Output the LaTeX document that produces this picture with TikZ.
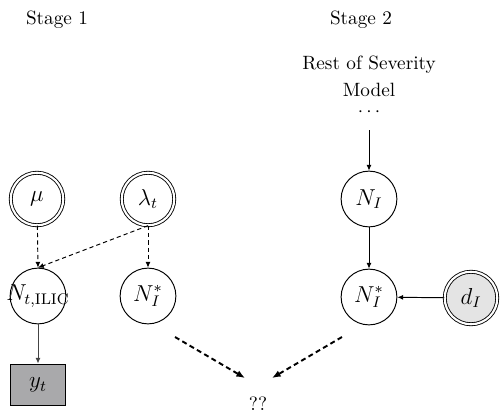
\documentclass[tikz,border=0pt]{standalone}
\usetikzlibrary{arrows.meta}
\definecolor{obsgray}{HTML}{A9A9AB}
\definecolor{lightgray}{HTML}{E4E4E4}
\definecolor{linegray}{HTML}{444444}
\begin{document}
\begin{tikzpicture}[x=0.52pt,y=-0.52pt,
  latent/.style={circle,draw,line width=0.5pt,minimum size=29pt,inner sep=0pt,font=\fontsize{11.5}{14}\selectfont},
  param/.style={circle,draw,line width=0.45pt,double,double distance=1.1pt,minimum size=27.3pt,inner sep=0pt,font=\fontsize{11.5}{14}\selectfont},
  obs/.style={rectangle,draw,line width=0.5pt,fill=obsgray,minimum width=29pt,minimum height=21.8pt,inner sep=0pt,font=\fontsize{11.5}{14}\selectfont},
  plain/.style={inner sep=0pt,font=\fontsize{10}{12}\selectfont},
  arr/.style={-{Latex[length=3pt,width=2.6pt]},line width=0.5pt},
  darr/.style={-{Latex[length=3pt,width=2.6pt]},line width=0.5pt,dash pattern=on 2.2pt off 1.6pt},
  bigdarr/.style={-{Latex[length=4.5pt,width=3.6pt]},line width=1pt,dash pattern=on 2.6pt off 1.8pt}]
\useasboundingbox (0,0) rectangle (500,413);
\clip (0,0) rectangle (500,413);

\node[plain,anchor=base] (stage1) at (57,24) {Stage 1};
\node[plain,anchor=base] (stage2) at (361,24) {Stage 2};
\node[plain,anchor=base] (rest1) at (369,69) {Rest of Severity};
\node[plain,anchor=base] (rest2) at (369,96) {Model};
\node[plain] (dots) at (369,112) {$\cdots$};
\coordinate (restend) at (369,130);

\node[param] (mu) at (37,199) {$\mu$};
\node[param] (lam) at (148,199) {$\lambda_t$};
\node[latent] (nt) at (38,296) {};
\node[inner sep=0pt,font=\fontsize{11.5}{14}\selectfont] (ntlab) at (38,296) {$N_{t,\mathrm{ILIC}}$};
\node[latent] (nis) at (148,296) {$N_I^*$};
\node[obs] (yt) at (38,385) {$y_t$};

\node[latent] (NI) at (369,199) {$N_I$};
\node[latent] (nis2) at (369,297) {$N_I^*$};
\node[param,fill=lightgray] (dI) at (471,298) {$d_I$};

\node[plain] (qq) at (258,404) {??};

\draw[darr] (mu) -- (nt.north);
\draw[darr] (lam.south) -- (nt.north);
\draw[darr] (lam) -- (nis);
\draw[arr,draw=linegray] (nt) -- (yt);

\draw[arr] (restend) -- (NI);
\draw[arr] (NI) -- (nis2);
\draw[arr] (dI) -- (nis2);

\coordinate (a1) at (175,337);
\coordinate (a2) at (245,378);
\coordinate (b1) at (342,337);
\coordinate (b2) at (272,378);
\draw[bigdarr] (a1) -- (a2);
\draw[bigdarr] (b1) -- (b2);
\end{tikzpicture}
\end{document}
